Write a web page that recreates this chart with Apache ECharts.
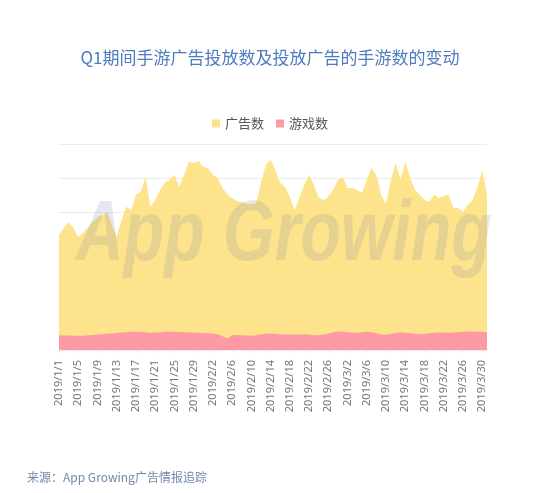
<!DOCTYPE html>
<html>
<head>
<meta charset="utf-8">
<script src="https://cdn.jsdelivr.net/npm/echarts@6/dist/echarts.min.js"></script>
<style>
html,body{margin:0;padding:0;background:#fff;}
#c{width:540px;height:493px;}
</style>
</head>
<body>
<div id="c"></div>
<script>
// Dates 2019/1/1 .. 2019/3/31
const categories = [];
(function(){
  const days = [31, 28, 31];
  for (let m = 0; m < 3; m++) for (let d = 1; d <= days[m]; d++) categories.push('2019/' + (m + 1) + '/' + d);
})();

const adCounts = [
  3350, 3550, 3730, 3560, 3290, 3410, 3560, 3730, 3870, 3930,
  4020, 3640, 3290, 3790, 4170, 4080, 4520, 4600, 5040, 4170,
  4370, 4660, 4870, 4950, 5100, 4750, 5100, 5480, 5450, 5510,
  5330, 5300, 5100, 5010, 4720, 4520, 4430, 4340, 4310, 4250,
  4250, 4280, 4870, 5390, 5540, 5240, 4870, 4750, 4460, 4080,
  4430, 4810, 5100, 4810, 4430, 4370, 4460, 4660, 4950, 5040,
  4720, 4720, 4660, 4570, 4950, 5300, 5100, 4520, 4250, 4950,
  5450, 4950, 5480, 5040, 4660, 4520, 4370, 4310, 4520, 4430,
  4490, 4520, 4140, 4140, 4020, 4220, 4370, 4720, 5240, 4520
];

const gameCounts = [
  430, 425, 420, 412, 415, 418, 430, 440, 452, 460,
  470, 480, 495, 510, 520, 528, 532, 525, 515, 505,
  510, 520, 528, 535, 530, 522, 515, 510, 512, 505,
  498, 490, 480, 460, 400, 335, 440, 438, 430, 420,
  415, 430, 450, 470, 480, 470, 462, 455, 448, 443,
  450, 458, 445, 432, 428, 450, 480, 515, 540, 530,
  515, 505, 500, 515, 530, 520, 490, 455, 443, 470,
  495, 510, 500, 485, 470, 460, 470, 490, 505, 512,
  510, 505, 512, 525, 535, 540, 535, 530, 528, 520
];

const seriesNames = ['广告数', '游戏数'];

const chart = echarts.init(document.getElementById('c'));
chart.setOption({
  backgroundColor: '#ffffff',
  animation: false,
  title: {
    text: 'Q1期间手游广告投放数及投放广告的手游数的变动',
    left: 'center',
    top: 44,
    textStyle: { fontFamily: 'Noto Sans CJK SC', fontSize: 17, fontWeight: 'normal', color: '#4f7cbf' }
  },
  legend: {
    data: seriesNames,
    top: 112,
    left: 'center',
    icon: 'rect',
    itemWidth: 8,
    itemHeight: 8,
    itemGap: 12,
    textStyle: { fontFamily: 'Noto Sans CJK SC', fontSize: 13, color: '#555' }
  },
  grid: { left: 59, right: 53, top: 144, bottom: 143 },
  xAxis: {
    type: 'category',
    data: categories,
    boundaryGap: false,
    axisLine: { show: true, lineStyle: { color: '#eeeeee' } },
    axisTick: { show: true, interval: 3, length: 3, lineStyle: { color: '#e8e8e8' } },
    axisLabel: {
      interval: 3,
      rotate: 90,
      margin: 10,
      fontFamily: 'Noto Sans',
      fontSize: 11,
      color: '#777'
    }
  },
  yAxis: {
    type: 'value',
    min: 0,
    max: 6000,
    interval: 1000,
    axisLabel: { show: false },
    axisLine: { show: false },
    axisTick: { show: false },
    splitLine: { lineStyle: { color: '#ececec' } }
  },
  series: [
    {
      name: seriesNames[0],
      type: 'line',
      data: adCounts,
      symbol: 'none',
      smooth: false,
      itemStyle: { color: '#fde38b' },
      lineStyle: { width: 0, color: '#fde38b' },
      areaStyle: { color: '#fde38b', opacity: 1 }
    },
    {
      name: seriesNames[1],
      type: 'line',
      data: gameCounts,
      symbol: 'none',
      smooth: false,
      itemStyle: { color: '#fd9aa3' },
      lineStyle: { width: 0, color: '#fd9aa3' },
      areaStyle: { color: '#fd9aa3', opacity: 1 }
    }
  ],
  graphic: [
    {
      type: 'text',
      x: 76,
      y: 193,
      scaleX: 0.77,
      z: 100,
      silent: true,
      style: {
        text: 'App Growing',
        fontFamily: 'Liberation Sans',
        fontStyle: 'italic',
        fontWeight: 'bold',
        fontSize: 86,
        fill: 'rgba(120,128,165,0.18)'
      }
    },
    {
      type: 'text',
      left: 27,
      top: 471,
      style: {
        text: '来源：App Growing广告情报追踪',
        fontFamily: 'Noto Sans CJK SC',
        fontSize: 12,
        fill: '#7189ab'
      }
    }
  ]
});
</script>
</body>
</html>
